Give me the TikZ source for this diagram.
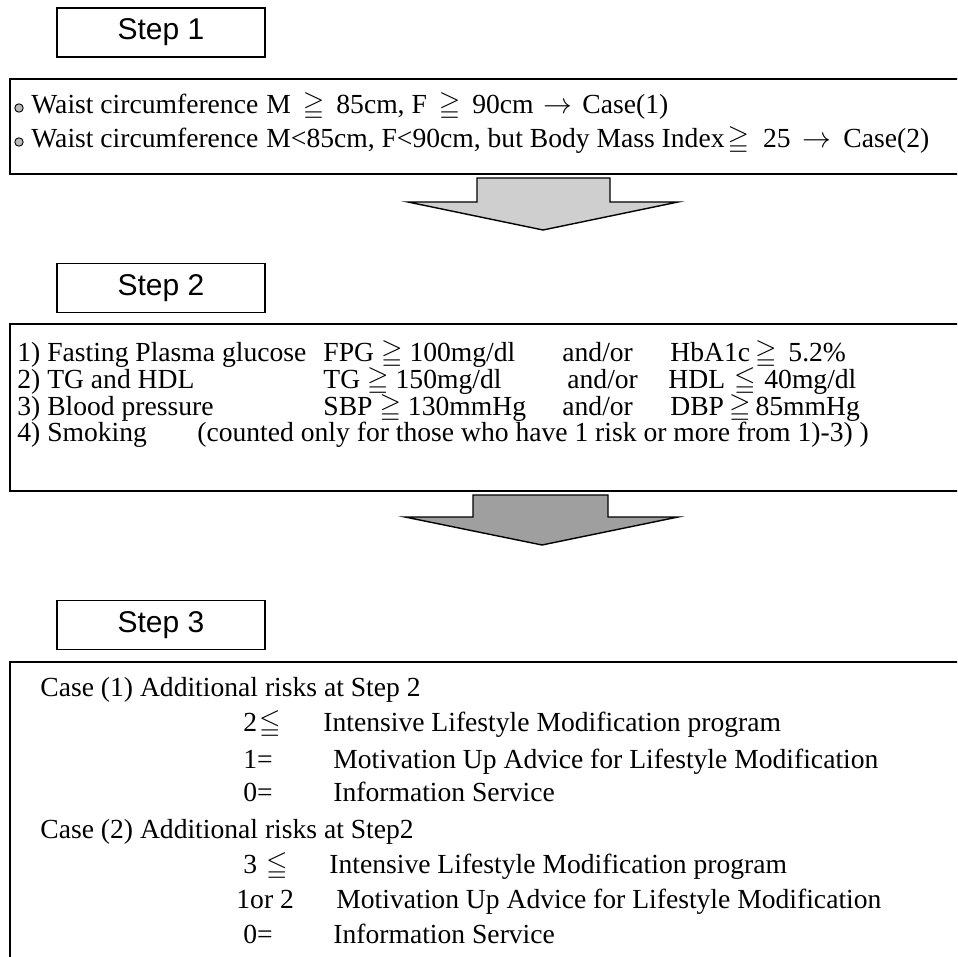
\documentclass[tikz,border=0pt]{standalone}
\usepackage{amsmath, amssymb}
\usepackage{fontspec}
\setmainfont{Liberation Serif}
\newfontfamily\stepfont{Liberation Sans}
\newcommand{\geqsym}[1][1.5pt]{\hspace{#1}$\geqq$\hspace{#1}}
\newcommand{\leqsym}[1][1.5pt]{\hspace{#1}$\leqq$\hspace{#1}}
\newcommand{\tosym}[1][2pt]{\hspace{#1}$\rightarrow$\hspace{#1}}
\usepackage{tikz}
\usetikzlibrary{positioning, calc}

\begin{document}
\begin{tikzpicture}[
        x=0.5pt, y=-0.5pt, % one unit = one pixel of the page
        stepbox/.style={draw, line width=0.8pt, minimum width=104pt, minimum height=24.5pt, inner sep=0pt, font=\stepfont\fontsize{15}{18}\selectfont},
        panel/.style={draw, line width=0.9pt, anchor=north west, minimum width=500pt, inner sep=0pt},
        txt/.style={anchor=base west, inner sep=0pt, font=\fontsize{13.8}{16}\selectfont},
        blockarrow/.style={draw, line width=0.7pt, line join=miter},
        dot/.style={circle, draw, line width=0.45pt, fill=gray!55, inner sep=0pt, minimum size=4.2pt}
      ]
        \useasboundingbox (0,0) rectangle (957,957);
        \clip (0,0) rectangle (957,957);

        % Step labels
        \node[stepbox] (step_one) at (161,32.5) {Step 1};
        \node[stepbox] (step_two) at (161,288) {Step 2};
        \node[stepbox] (step_three) at (161,625) {Step 3};

        % Panels (open to the right and at the bottom)
        \node[panel, minimum height=47.5pt] (box_one) at (9,78) {};
        \node[panel, minimum height=83.5pt] (box_two) at (9,323) {};
        \node[panel, minimum height=170pt] (box_three) at (9,661) {};

        % Step 1 text
        \node[dot] (bul_one) at (19,108) {};
        \node[txt] (waist_one) at (31,114) {Waist circumference};
        \node[txt] (case_one) at (266,114) {M\geqsym[6pt]85cm, F\geqsym[6pt]90cm\tosym[5pt]Case(1)};
        \node[dot] (bul_two) at (19,142) {};
        \node[txt] (waist_two) at (31,148) {Waist circumference};
        \node[txt] (case_two) at (266,148) {M<85cm, F<90cm, but Body Mass Index\hspace{1.5pt}$\geqq$\hspace{7pt}25\tosym[6pt]Case(2)};

        % Arrow from Step 1 to Step 2
        \draw[blockarrow, fill=gray!38] (477,178) -- (610,178) -- (610,202) -- (678,202)
            -- (543,230) -- (408,202) -- (477,202) -- cycle;

        % Step 2 text
        \node[txt] (risk_one) at (17,361) {1) Fasting Plasma glucose};
        \node[txt] (risk_one_a) at (323,361) {FPG\geqsym[3.5pt]100mg/dl};
        \node[txt] (risk_one_o) at (562,361) {and/or};
        \node[txt] (risk_one_b) at (670,361) {HbA1c\geqsym[2.5pt] 5.2\%};
        \node[txt] (risk_two) at (17,388) {2) TG and HDL};
        \node[txt] (risk_two_a) at (323,388) {TG\geqsym[3.5pt]150mg/dl};
        \node[txt] (risk_two_o) at (567,388) {and/or};
        \node[txt] (risk_two_b) at (668,388) {HDL \leqsym[1pt] 40mg/dl};
        \node[txt] (risk_three) at (17,415) {3) Blood pressure};
        \node[txt] (risk_three_a) at (323,415) {SBP\geqsym[3.5pt]130mmHg};
        \node[txt] (risk_three_o) at (562,415) {and/or};
        \node[txt] (risk_three_b) at (670,415) {DBP\geqsym[2.5pt]85mmHg};
        \node[txt] (risk_four) at (17,441) {4) Smoking};
        \node[txt] (risk_four_note) at (197,441) {(counted only for those who have 1 risk or more from 1)-3) )};

        % Arrow from Step 2 to Step 3
        \draw[blockarrow, fill=gray!75] (473,495) -- (608,495) -- (608,517) -- (678,517)
            -- (542,545) -- (405,517) -- (473,517) -- cycle;

        % Step 3 text
        \node[txt] (case_a) at (40,696) {Case (1) Additional risks at Step 2};
        \node[txt] (case_a_n1) at (243,731) {2\leqsym[1pt]};
        \node[txt] (case_a_p1) at (323,731) {Intensive Lifestyle Modification program};
        \node[txt] (case_a_n2) at (243,768) {1=};
        \node[txt] (case_a_p2) at (333,768) {Motivation Up Advice for Lifestyle Modification};
        \node[txt] (case_a_n3) at (243,801) {0=};
        \node[txt] (case_a_p3) at (333,801) {Information Service};
        \node[txt] (case_b) at (40,838) {Case (2) Additional risks at Step2};
        \node[txt] (case_b_n1) at (243,873) {3 \leqsym[1pt]};
        \node[txt] (case_b_p1) at (329,873) {Intensive Lifestyle Modification program};
        \node[txt] (case_b_n2) at (236,908) {1or 2};
        \node[txt] (case_b_p2) at (336,908) {Motivation Up Advice for Lifestyle Modification};
        \node[txt] (case_b_n3) at (243,943) {0=};
        \node[txt] (case_b_p3) at (333,943) {Information Service};
    \end{tikzpicture}
\end{document}
